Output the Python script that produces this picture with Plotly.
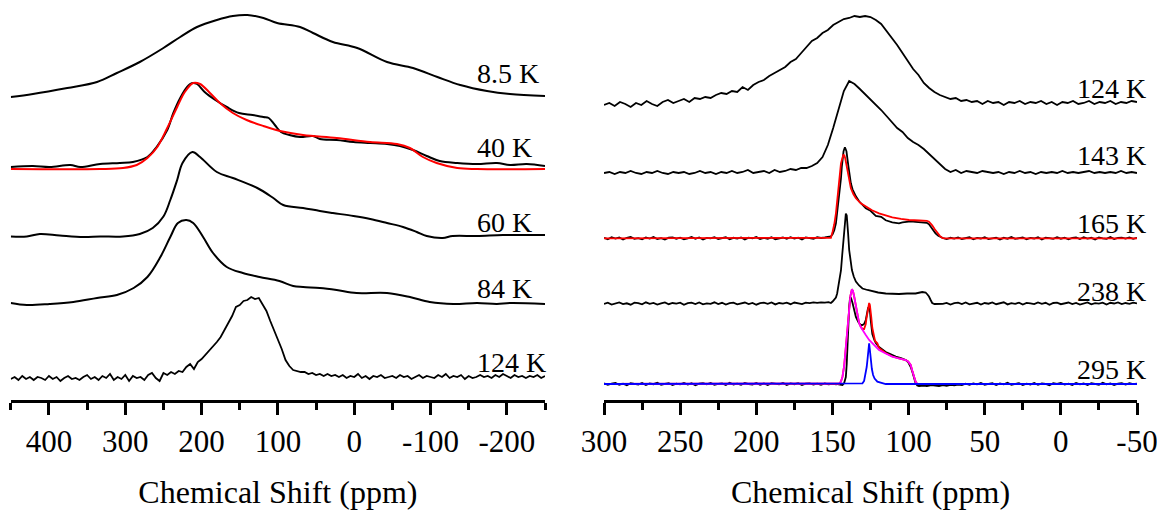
import numpy as np
import plotly.graph_objects as go
from plotly.subplots import make_subplots

# ---------------- Left panel (broad spectra, 450 .. -250 ppm) ----------------
ppm_8p5K = [450, 421, 376, 337, 311, 281, 250, 228, 206, 180, 159, 140, 119, 101, 71, 54, 28,
            -4, -43, -77, -109, -139, -174, -204, -250]
int_8p5K = [0, 3, 9, 15, 24, 35, 49, 60, 70, 77, 81, 82, 79, 74, 70, 64, 55,
            49, 35, 29, 20, 12, 6, 3, 1]

ppm_40K = [450, 421, 399, 372, 359, 333, 307, 290, 271, 259, 245, 237, 228, 219, 212, 206, 196,
           182, 167, 151, 133, 119, 112, 104, 96, 85, 71, 54, 45, 23, 1, -21, -43, -60, -77,
           -95, -112, -135, -161, -187, -204, -226, -250]
int_40K = [2, 3, 2, 4, 2, 5, 6, 7, 12, 22, 39, 56, 71, 82, 86, 85, 77,
           69, 62, 56, 54, 52, 51, 44, 37, 34, 32, 33, 30, 29, 27, 26, 25, 23, 19,
           13, 8, 6, 5, 6, 4, 5, 3]

ppm_40K_fit = [450, 333, 303, 285, 271, 258, 245, 232, 222, 211, 202, 189, 176, 159, 141, 119,
               97, 67, 23, -21, -56, -73, -90, -108, -135, -161, -250]
int_40K_fit = [0, 0, 1, 4, 11, 22, 41, 62, 77, 86, 85, 76, 66, 56, 49, 43,
               38, 34, 31, 27, 25, 21, 12, 6, 1, 0, 0]

ppm_60K = [450, 429, 412, 386, 355, 333, 303, 281, 264, 250, 241, 232, 225, 212, 202, 180, 159,
           127, 106, 93, 67, 45, 28, 1, -21, -43, -64, -82, -95, -116, -129, -161, -195, -250]
int_60K = [0, 0, 2.5, 1, -0.5, 0, 0, 2.5, 8.5, 20, 36.5, 56.5, 73.5, 84.5, 79.5, 64.5, 58.5,
           48.5, 38.5, 31.5, 28.5, 25.5, 23.5, 20.5, 17.5, 13.5, 9.5, 4.5, 0.5, -1.5, 0.5, 0.5, 1.5, 1.5]

ppm_84K = [450, 429, 399, 368, 337, 311, 289, 271, 254, 241, 231, 220, 211, 198, 185, 167, 146,
           124, 98, 80, 67, 45, 23, -3, -43, -73, -99, -130, -161, -187, -204, -250]
int_84K = [0, -2, -1, 1, 5, 8, 15, 26, 46, 66, 80, 83, 80, 66, 50, 36, 30,
           26, 22, 17, 16, 15, 13, 10, 10, 6, 1, -1, 0, -1, 0, -1]

# 124 K, sampled every 5 ppm from 450 to -250
int_124K_wide = [0, 2, -1, 3, 0, 2, -1, 2, 1, -1, 3, 0, 2, -2, 1, 3, 0, 1, -1, 2,
                 4, 0, 2, -1, 3, 1, 5, -1, 2, 0, 4, -2, 3, 1, 2, -1, 4,
                 6, 1, -2, 6, 4, 7, 5, 8, 7, 12, 15, 10, 17, 20, 24, 28, 32, 37, 42, 49,
                 57, 63, 72, 74, 78, 79, 82, 80, 81, 75, 68, 58, 49, 40, 30, 19, 13, 9, 8, 7,
                 7, 5, 6, 4, 5, 3, 5, 3, 4,
                 2, 4, 1, 3, 2, 5, 1, 3, 0, 3, 2, 4, 1, 2, 3, 1, 4, 2, 3, 0,
                 2, 4, 1, 3, 2, 1, 4, 2, 5, 1, 3, 2, 4, 0, 3, 1, 2, 4, 2, 3,
                 1, 4, 2, 5, 3, 1, 4, 2, 3, 1, 3, 2, 4, 1, 3]

# ---------------- Right panel (300 .. -50 ppm) ----------------
# 124 K and 143 K, sampled every 3.5 ppm from 300 to -50
int_124K = [0, 2, -1, 3, 1, -2, 2, 0, 4, 1, -1, 3, 5, 2, 4, 6, 3, 7, 6, 8,
            7, 10, 12, 11, 14, 13, 18, 15, 20, 23, 25, 29, 32, 35, 38, 43, 46, 52, 58, 64,
            67, 72, 75, 80, 83, 86, 87, 89, 88, 89, 88, 85, 81, 74, 68, 60, 52, 44, 36, 30,
            22, 17, 13, 10, 8, 6, 7, 4, 5, 3, 4, 1, 4, 2, 3, 0, 3, 2, 4, 1,
            3, 2, 4, 1, 3, 0, 3, 2, 4, 1, 2, 4, 1, 3, 2, 4, 1, 3, 2, 4, 3]

int_143K = [0, 1, -1, 1, 0, 2, 0, -1, 1, 0, 2, 0, -1, 1, 0, 1, -1, 0, 2, 0,
            1, -1, 1, 0, 2, 0, 1, 3, 0, 1, 2, 0, 3, 1, 2, 4, 3, 5, 5, 7,
            10, 16, 28, 45, 63, 82, 92, 89, 84, 79, 74, 69, 63, 57, 51, 45, 41, 35, 31, 28,
            24, 19, 13, 8, 4, 1, 3, 0, 2, 1, 0, 2, 1, 0, 1, -1, 1, 0, 2, 0,
            1, -1, 1, 0, 1, 0, 2, 0, 1, 0, 1, 2, 0, 1, 0, 1, 0, 2, 0, 1, 0]

# 165 K experimental: baseline samples (2.5 ppm step) and line shape
base_165K_hi = [0.4, -0.9, 1.1, -0.2, 0.8, -1.2, 0.5, 1.3, -0.6, 0.1,
                -1.0, 0.9, -0.3, 1.2, -0.7, 0.2, -1.3, 0.6, 1.0, -0.4,
                0.7, -1.0, 0.0, 1.3, -0.5, 0.8, -1.2, 0.4, -0.1, 1.1,
                -0.7, 0.3, 1.0, -0.9, 0.5, -0.3, 0.9, -1.1, 0.6, -0.1,
                1.2, -0.8, 0.4, -0.4, 1.0, -0.9, 0.1, 0.8, -0.6, 1.1,
                -0.3, 0.6, -1.1, 0.9, 0.2, -0.5, 1.0, 0.3, 0.8, 1.2]
base_165K_lo = [0.3, -0.8, 0.5, -0.3, 0.9, -0.7, 0.2, 1.0, -1.0, 0.4,
                -0.2, 1.1, -0.8, 0.2, 0.7, -1.1, 0.5, -0.4, 1.2, -0.6,
                0.1, 0.9, -0.9, 0.4, -0.2, 1.0, -1.2, 0.6, 0.2, -0.6,
                1.1, -0.4, 0.7, -1.0, 0.3, 0.8, -0.7, 1.0, -0.3, 0.5,
                -1.1, 0.9, 0.0, -0.5, 1.2, -0.8, 0.3, 0.6, -0.3, 0.9,
                -0.5, 0.4]
ppm_165K = [151.0, 149.9, 148.8, 147.7, 146.9, 146.0, 145.1, 144.4, 143.8, 142.7, 141.8, 140.8,
            139.5, 138.4, 137.9, 136.8, 135.7, 134.6, 132.5, 130.3, 128.1, 125.0, 121.5, 118.0,
            115.0, 110.7, 106.3, 104.0, 101.9, 98.6, 95.4, 91.0, 88.0, 86.6, 85.5, 84.0, 82.3,
            80.5, 79.0]
int_165K = [2, 4, 8, 15, 25, 36, 48, 60, 72, 87, 91, 87,
            72, 60, 55, 49, 45, 42, 37, 34, 30, 27.5, 22.5, 21.5,
            18, 16, 15, 16, 16.5, 17, 16.5, 16, 15.5, 14, 11.5, 8, 5,
            2.5, 1]

ppm_165K_fit = [300, 152.1, 151.0, 149.9, 148.8, 147.7, 146.9, 146.0, 145.1, 144.4, 142.9, 142.2,
                141.6, 140.8, 140.1, 139.0, 137.9, 136.2, 134.6, 131.4, 128.1, 124.0, 119.4, 115.0,
                110.7, 105.0, 99.7, 93.0, 88.0, 86.6, 85.5, 84.5, 82.8, 81.2, 79.5, 77.9, 76.5, -50]
int_165K_fit = [0, 0, 0.5, 6.6, 14, 25, 37, 51.6, 64, 75, 83.3, 83,
                80, 73, 65, 56, 50, 44, 40, 35, 31.6, 28, 25, 23,
                21, 19.5, 18.3, 17.8, 17.5, 16.5, 15, 13, 9, 5.5, 2.5, 0.3, 0, 0]

# 238 K experimental
base_238K_hi = [-0.5, 0.8, -1.1, 0.3, 1.0, -0.6, 0.2, -1.2, 0.9, 0.4,
                -0.8, 1.2, -0.3, 0.6, -1.0, 0.1, 1.1, -0.7, 0.5, -0.2,
                0.9, -1.3, 0.4, 0.8, -0.5, 1.0, -0.9, 0.2, -0.4, 1.2,
                -0.6, 0.7, -1.1, 0.3, 0.9, -0.8, 0.1, 1.0, -0.5, 0.6,
                -1.2, 0.4, 0.8, -0.3, 1.1, -0.9, 0.5, -0.1, 0.9, -0.7,
                1.0, 0.2, -0.6, 0.9, 0.4, 1.1, 0.6, 1.2, 0.8, 1.3]
base_238K_lo = [-0.3, 0.6, -1.0, 0.4, 0.9, -0.5, 1.1, -0.8, 0.2, 0.7,
                -1.1, 0.5, -0.2, 1.0, -0.7, 0.3, 1.2, -0.9, 0.4, -0.3,
                0.8, -1.0, 0.6, 0.1, -0.6, 1.1, -0.4, 0.7, -1.2, 0.5,
                0.9, -0.7, 0.2, 1.0, -0.5, 0.6, -1.0, 0.3, 1.1, -0.8,
                0.4, -0.2, 0.9, -1.1, 0.7, 0.0, 1.0, -0.6, 0.5, -0.3,
                0.8, 0.2]
ppm_238K = [151.0, 149.9, 148.8, 147.7, 146.9, 145.7, 144.4, 143.6, 142.9, 142.2, 141.8, 141.2,
            140.6, 140.3, 139.7, 139.0, 138.2, 137.2, 136.0, 134.6, 132.5, 130.3, 127.0, 123.8,
            120.0, 115.0, 110.0, 106.3, 101.0, 95.4, 91.0, 88.8, 87.6, 86.6, 85.5, 84.5, 83.0, 80.1]
int_238K = [0.5, 2, 4, 6, 10, 20, 33, 48, 63, 77, 85, 90,
            88, 83.5, 70, 53.5, 42, 33.5, 27, 22, 18, 15, 13.5, 12,
            11, 10, 9.5, 9.5, 10, 10, 11.5, 11, 9, 7, 3.5, 0.5, -0.5, -0.5]

# 295 K experimental and the two-site fit (sum, first site, second site)
base_295K_hi = [0.6, -0.9, 0.3, 1.1, -0.7, 0.4, -1.2, 0.8, 0.1, -0.5,
                1.0, -1.0, 0.5, -0.2, 1.2, -0.8, 0.2, 0.9, -1.1, 0.4,
                -0.3, 1.1, -0.6, 0.7, -1.3, 0.3, 0.9, -0.4, 1.0, -0.9,
                0.2, 0.6, -1.0, 1.2, -0.5, 0.4, -0.8, 1.0, 0.0, -0.6,
                1.1, -0.7, 0.5, -1.1, 0.8, 0.2, -0.4, 1.0, -0.9, 0.6,
                -0.2, 0.9, -1.0, 0.4, 0.7, -0.6, 0.3, -0.8, 0.5, -0.3,
                0.2, -0.4]
base_295K_lo = [-1.5, -2.0, -1.2, -1.8, -0.9, -1.4, -0.6, -1.0, 0.3, -0.8,
                0.5, -0.4, 1.0, -0.9, 0.2, 0.8, -1.1, 0.6, -0.3, 1.2,
                -0.7, 0.4, 0.9, -1.0, 0.3, -0.5, 1.1, -0.8, 0.6, 0.0,
                -1.2, 0.7, 0.2, 1.0, -0.6, 0.4, -0.9, 1.1, -0.3, 0.5,
                -1.0, 0.8, 0.1, -0.7, 1.2, -0.4, 0.6, -1.1, 0.3, 0.9,
                -0.5, 0.7, -0.2, 0.4]
ppm_295K = [146.7, 145.0, 143.4, 142.3, 141.2, 140.6, 140.1, 139.5, 139.0, 138.4, 137.8, 136.8,
            135.7, 134.6, 133.0, 131.4, 130.3, 129.2, 128.1, 127.3, 126.6, 125.9, 125.3, 124.8,
            123.8, 122.5, 121.5, 119.4, 117.0, 115.0, 112.0, 108.4, 105.0, 101.9, 100.3, 98.6,
            97.5, 96.5, 95.4, 94.3, 93.2, 90.0, 88.0, 85.0]
int_295K = [0, -0.5, -1, 1, 7, 20, 41, 60, 77, 87, 86, 81,
            74, 67, 62, 59, 59, 60, 64, 72, 76, 77, 72, 63,
            50, 44, 41, 37, 34, 32, 30, 27.5, 26, 24, 22, 17,
            12, 7, 1, -1.5, -2, -1.5, -2, -1]

ppm_295K_sum = [300, 147.0, 145.5, 144.4, 143.4, 142.3, 141.2, 140.1, 139.0, 138.2, 137.2, 136.5,
                135.7, 134.6, 133.6, 132.5, 131.4, 130.3, 129.2, 128.1, 127.7, 127.0, 126.6, 125.9,
                125.4, 125.1, 124.5, 123.8, 123.0, 122.0, 120.5, 119.4, 115.0, 110.7, 106.3, 101.9,
                100.3, 98.6, 97.5, 96.5, 95.4, 94.3, -50]
int_295K_sum = [0, 0, 0.5, 2.5, 7.3, 18, 37.3, 58, 77.3, 88, 94.7, 93,
                87.3, 77, 67.3, 61, 57.5, 55, 55, 60, 65, 72, 77.3, 81,
                79, 75.7, 67, 56, 48, 43, 40.7, 36, 31, 27.5, 25.5, 24,
                22.5, 19, 13, 7.3, 2.5, 0, 0]

ppm_295K_site1 = [300, 147.0, 145.5, 144.4, 143.4, 142.3, 141.2, 140.1, 139.0, 138.2, 137.2, 136.5,
                  135.7, 134.6, 133.6, 132.5, 131.4, 130.3, 128.1, 125.9, 122.5, 119.4, 115.0, 110.7,
                  106.3, 101.9, 100.3, 98.6, 97.5, 96.5, 95.4, 94.3, -50]
int_295K_site1 = [0, 0, 0.5, 2.5, 7.3, 18, 37.3, 58, 77.3, 88, 94.7, 93,
                  87.3, 77, 67.3, 61, 57, 54, 49, 44, 38.5, 34, 30.5, 27.3,
                  25.5, 24, 22.5, 19, 13, 7.3, 2.5, 0, 0]

ppm_295K_site2 = [300, 131.5, 130.3, 129.2, 128.1, 127.5, 127.0, 126.4, 125.9, 125.4, 124.8, 124.1,
                  123.3, 122.3, 120.5, 118.0, 115.0, -50]
int_295K_site2 = [0, 0, 0.7, 3, 10.7, 17, 24, 33, 40.7, 34, 24, 15,
                  9, 5.5, 2.3, 1, 0, 0]

left_ticks = [400, 300, 200, 100, 0, -100, -200]
left_ticktext = ["400", "300", "200", "100", "0", "-100", "-200"]
right_ticks = [300, 250, 200, 150, 100, 50, 0, -50]
right_ticktext = ["300", "250", "200", "150", "100", "50", "0", "-50"]

# ---------------- figure ----------------
W, H = 1157, 510
SERIF = "Liberation Serif, Times New Roman, serif"

fig = make_subplots(rows=1, cols=2)

# vertical stacking of the spectra (plot units)
stack_left = {"8.5 K": 303, "40 K": 231, "60 K": 163.5, "84 K": 97, "124 K": 21}
stack_right = {"124 K": 295, "143 K": 227, "165 K": 161.7, "238 K": 96.5, "295 K": 16}


def add_line(x, y, offset, col, color="black", shape="linear", width=2.0):
    fig.add_trace(
        go.Scatter(x=list(x), y=[v + offset for v in y], mode="lines",
                   line=dict(color=color, width=width, shape=shape),
                   showlegend=False, hoverinfo="skip"),
        row=1, col=col)


def grid(start, stop, values):
    return np.linspace(start, stop, len(values))


def joined(hi, hi_range, x_mid, y_mid, lo, lo_range):
    x = list(grid(*hi_range, hi)) + list(x_mid) + list(grid(*lo_range, lo))
    y = list(hi) + list(y_mid) + list(lo)
    return x, y


# left panel
add_line(ppm_8p5K, int_8p5K, stack_left["8.5 K"], 1, shape="spline")
add_line(ppm_40K, int_40K, stack_left["40 K"], 1, shape="spline")
add_line(ppm_40K_fit, int_40K_fit, stack_left["40 K"], 1, color="#ff0000", shape="spline")
add_line(ppm_60K, int_60K, stack_left["60 K"], 1, shape="spline")
add_line(ppm_84K, int_84K, stack_left["84 K"], 1, shape="spline")
add_line(grid(450, -250, int_124K_wide), int_124K_wide, stack_left["124 K"], 1, width=1.8)

# right panel
add_line(grid(300, -50, int_124K), int_124K, stack_right["124 K"], 2, width=1.8)
add_line(grid(300, -50, int_143K), int_143K, stack_right["143 K"], 2, width=1.8)

x165, y165 = joined(base_165K_hi, (300, 152.5), ppm_165K, int_165K, base_165K_lo, (77.5, -50))
add_line(x165, y165, stack_right["165 K"], 2, width=1.8)
add_line(ppm_165K_fit, int_165K_fit, stack_right["165 K"], 2, color="#ff0000", width=1.8)

x238, y238 = joined(base_238K_hi, (300, 152.5), ppm_238K, int_238K, base_238K_lo, (77.5, -50))
add_line(x238, y238, stack_right["238 K"], 2, width=1.8)

x295, y295 = joined(base_295K_hi, (300, 147.5), ppm_295K, int_295K, base_295K_lo, (82.5, -50))
add_line(x295, y295, stack_right["295 K"], 2, width=1.8)
add_line(ppm_295K_sum, int_295K_sum, stack_right["295 K"], 2, color="#ff0000", width=1.8)
add_line(ppm_295K_site1, int_295K_site1, stack_right["295 K"], 2, color="#ff00ff", width=1.8)
add_line(ppm_295K_site2, int_295K_site2, stack_right["295 K"], 2, color="#0000ff", width=1.8)

axis_common = dict(
    showline=True, linecolor="black", linewidth=2.5, mirror=False,
    showgrid=False, zeroline=False, automargin=False,
    ticks="outside", ticklen=12, tickwidth=2.5, tickcolor="black",
    tickmode="array", ticklabeloverflow="allow",
    tickfont=dict(family=SERIF, size=31, color="black"),
    title=dict(text="Chemical Shift (ppm)",
               font=dict(family=SERIF, size=32, color="black"), standoff=24),
)

fig.update_xaxes(
    domain=[10.8 / W, 545 / W], range=[450, -250],
    tickvals=left_ticks, ticktext=left_ticktext,
    minor=dict(tickmode="array", tickvals=[450, 350, 250, 150, 50, -50, -150, -250],
               ticks="outside", ticklen=7, tickwidth=2.5, tickcolor="black"),
    **axis_common, row=1, col=1)
fig.update_xaxes(
    domain=[604 / W, 1137 / W], range=[300, -50],
    tickvals=right_ticks, ticktext=right_ticktext,
    minor=dict(tickmode="array", tickvals=[275, 225, 175, 125, 75, 25, -25],
               ticks="outside", ticklen=7, tickwidth=2.5, tickcolor="black"),
    **axis_common, row=1, col=2)
fig.update_yaxes(range=[0, 400], visible=False, fixedrange=True, automargin=False)

label_font = dict(family=SERIF, size=28, color="black")
left_label_y = {"8.5 K": 327, "40 K": 253, "60 K": 178, "84 K": 112, "124 K": 38}
right_label_y = {"124 K": 312, "143 K": 245, "165 K": 177, "238 K": 109, "295 K": 31}
for name, yv in left_label_y.items():
    fig.add_annotation(x=-158, y=yv, xref="x", yref="y", text=name, showarrow=False,
                       xanchor="left", yanchor="middle", font=label_font)
for name, yv in right_label_y.items():
    fig.add_annotation(x=-9, y=yv, xref="x2", yref="y2", text=name, showarrow=False,
                       xanchor="left", yanchor="middle", font=label_font)

fig.update_layout(
    width=W, height=H,
    margin=dict(l=0, r=0, t=0, b=110, autoexpand=False),
    paper_bgcolor="white", plot_bgcolor="white",
    showlegend=False,
)

fig.write_html("out.html")
